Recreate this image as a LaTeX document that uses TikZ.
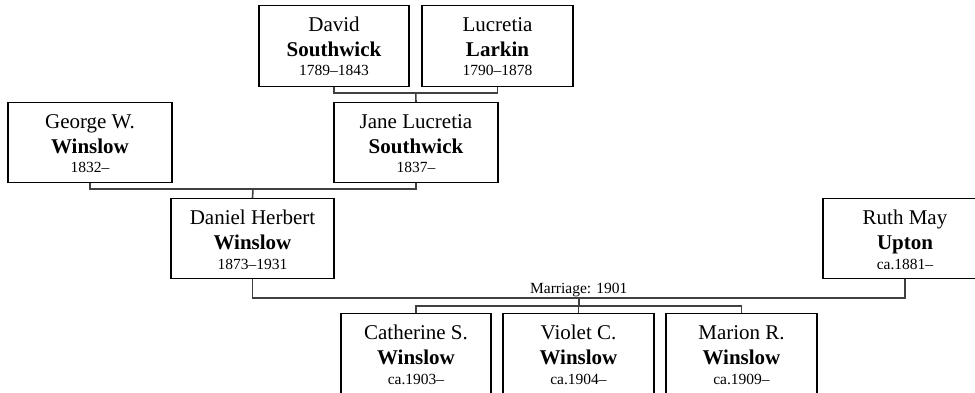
\documentclass[tikz,border=0pt]{standalone}
\usepackage{fontspec}
\setmainfont{Liberation Serif}
\usetikzlibrary{calc}
\tikzset{
  pbox/.style={draw=black, line width=1.2pt, fill=white, rectangle, inner sep=0pt},
  fnm/.style={font=\fontsize{21}{24}\selectfont, inner sep=0pt},
  lnm/.style={font=\fontsize{21}{24}\selectfont\bfseries, inner sep=0pt},
  yrs/.style={font=\fontsize{15.5}{18}\selectfont, inner sep=0pt},
  conn/.style={draw=black!75, line width=1.6pt},
}
% #1 name, #2 center x, #3 top y, #4 width, #5 height, #6 first, #7 last, #8 years
\newcommand{\famperson}[8]{%
  \node[pbox, minimum width=#4pt, minimum height=#5pt, anchor=north] (#1) at (#2,#3) {};
  \node[fnm, anchor=base] (#1-f) at ([yshift=-26.5pt]#1.north) {#6};
  \node[lnm, anchor=base] (#1-l) at ([yshift=-51.5pt]#1.north) {#7};
  \node[yrs, anchor=base] (#1-y) at ([yshift=-71pt]#1.north) {#8};
}
\begin{document}
\begin{tikzpicture}[x=1pt,y=-1pt]
\useasboundingbox (0,0) rectangle (975,393);
\clip (0,0) rectangle (975,393);
\fill[white] (0,0) rectangle (975,393);

\coordinate (dl) at (334,93);
\coordinate (gl) at (90,189);
\coordinate (ml) at (252.5,298);
\coordinate (cl) at (416,306);

\famperson{david}{334}{5}{150}{81}{David}{Southwick}{1789–1843}
\famperson{lucretia}{497.5}{5}{151}{81}{Lucretia}{Larkin}{1790–1878}
\famperson{george}{90}{102}{164}{80}{George W.}{Winslow}{1832–}
\famperson{jane}{416}{102}{164}{80}{Jane Lucretia}{Southwick}{1837–}
\famperson{daniel}{252.5}{198}{163}{80}{Daniel Herbert}{Winslow}{1873–1931}
\famperson{ruth}{905}{198}{164}{80}{Ruth May}{Upton}{ca.1881–}
\famperson{catherine}{416}{313}{150}{82}{Catherine S.}{Winslow}{ca.1903–}
\famperson{violet}{578.5}{313}{151}{82}{Violet C.}{Winslow}{ca.1904–}
\famperson{marion}{741.5}{313}{151}{82}{Marion R.}{Winslow}{ca.1909–}

% David + Lucretia -> Jane
\draw[conn] (david.south) -- (dl) -| (lucretia.south);
\coordinate (dmid) at ($(dl)!0.5!(dl -| lucretia.south)$);
\draw[conn] (dmid) -- (jane.north);

% George + Jane -> Daniel
\draw[conn] (george.south) -- (george.south |- gl) -| (jane.south);
\coordinate (gmid) at ($(george.south |- gl)!0.5!(jane.south |- gl)$);
\draw[conn] (gmid) -- (daniel.north);

% Daniel + Ruth marriage
\draw[conn] (daniel.south) -- (ml) -| (ruth.south);
\coordinate (mmid) at ($(ml)!0.5!(ml -| ruth.south)$);
\node[yrs, anchor=base] (marriage) at ([yshift=5pt]mmid) {Marriage: 1901};

% children
\draw[conn] (mmid) -- (mmid |- cl);
\draw[conn] (catherine.north) -- (catherine.north |- cl) -- (marion.north |- cl) -- (marion.north);
\draw[conn] (violet.north) -- (violet.north |- cl);
\end{tikzpicture}
\end{document}
